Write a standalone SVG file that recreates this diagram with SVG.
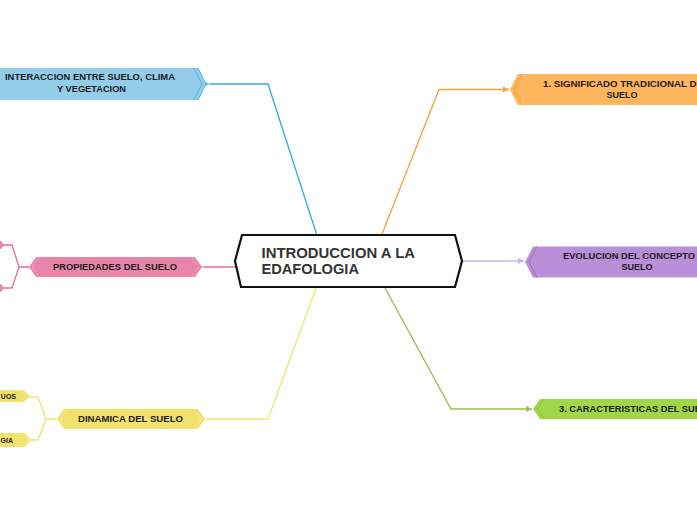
<svg xmlns="http://www.w3.org/2000/svg" width="697" height="520" viewBox="0 0 697 520">
<style>
.t{font-family:"Liberation Sans",Arial,sans-serif;font-weight:bold;fill:#1c1c1c;font-size:9px}
.c{fill:none;stroke-width:1.3}
.main{font-family:"Liberation Sans",Arial,sans-serif;font-weight:bold;fill:#333;font-size:14px}
</style>
<defs>
<marker id="aB" markerWidth="8" markerHeight="8" refX="1" refY="4" orient="auto" markerUnits="userSpaceOnUse"><path d="M7,1 L1,4 L7,7 Z" fill="#37a9e1"/></marker>
<marker id="aO" markerWidth="8" markerHeight="8" refX="7" refY="4" orient="auto" markerUnits="userSpaceOnUse"><path d="M1,1 L7,4 L1,7 Z" fill="#f2a33a"/></marker>
<marker id="aP" markerWidth="8" markerHeight="8" refX="7" refY="4" orient="auto" markerUnits="userSpaceOnUse"><path d="M1,1 L7,4 L1,7 Z" fill="#c7b5e5"/></marker>
<marker id="aK" markerWidth="8" markerHeight="8" refX="1" refY="4" orient="auto" markerUnits="userSpaceOnUse"><path d="M7,1 L1,4 L7,7 Z" fill="#ea6e9c"/></marker>
<marker id="aY" markerWidth="8" markerHeight="8" refX="1" refY="4" orient="auto" markerUnits="userSpaceOnUse"><path d="M7,1 L1,4 L7,7 Z" fill="#f5e46a"/></marker>
<marker id="aG" markerWidth="8" markerHeight="8" refX="7" refY="4" orient="auto" markerUnits="userSpaceOnUse"><path d="M1,1 L7,4 L1,7 Z" fill="#8dc44d"/></marker>
</defs>
<rect width="697" height="520" fill="#ffffff"/>
<g id="connectors">
<path class="c" d="M316.5,234 L268,84 H209" stroke="#37a9e1" marker-end="url(#aB)"/>
<path class="c" d="M382,234 L439,89.5 H509" stroke="#f2a33a" marker-end="url(#aO)"/>
<path class="c" d="M463,261 H524" stroke="#c7b5e5" marker-end="url(#aP)"/>
<path class="c" d="M237,267 H203" stroke="#ea6e9c" marker-end="url(#aK)"/>
<path class="c" d="M316,288 L268,419 H206" stroke="#f5e46a" marker-end="url(#aY)"/>
<path class="c" d="M385,288 L451,409 H532" stroke="#8dc44d" marker-end="url(#aG)"/>
<path class="c" d="M29,267 H19 L12,245 H0 M19,267 L12,288 H0" stroke="#ea6e9c"/>
<path class="c" d="M57,419 H46 L38,397 H30 M46,419 L38,440 H31" stroke="#f5e46a"/>
</g>
<g id="central">
<polygon points="242,235 455,235 462,261 455,287 241,287 235,261" fill="#ffffff" stroke="#111" stroke-width="2.2" stroke-linejoin="miter"/>
<text class="main" x="261.5" y="258.3" textLength="153.5" lengthAdjust="spacingAndGlyphs">INTRODUCCION A LA</text>
<text class="main" x="261.5" y="274.3" textLength="97.5" lengthAdjust="spacingAndGlyphs">EDAFOLOGIA</text>
</g>
<g id="n-interaccion">
<polygon points="0,68 198,68 206,84 198,100 0,100" fill="#94cdea"/>
<polyline points="194,68 202,84 194,100" fill="none" stroke="#4bb3e6" stroke-width="1"/>
<polyline points="198,68 206,84 198,100" fill="none" stroke="#4bb3e6" stroke-width="1"/>
<text class="t" x="5" y="80" textLength="170" lengthAdjust="spacingAndGlyphs">INTERACCION ENTRE SUELO, CLIMA</text>
<text class="t" x="57" y="92.3" textLength="69" lengthAdjust="spacingAndGlyphs">Y VEGETACION</text>
</g>
<g id="n-significado">
<polygon points="518,74 697,74 697,105 518,105 510,89.5" fill="#ffb55c"/>
<polyline points="522,74 514,89.5 522,105" fill="none" stroke="#f59d2e" stroke-width="1"/>
<text class="t" x="543" y="86.5" textLength="166" lengthAdjust="spacingAndGlyphs">1. SIGNIFICADO TRADICIONAL DEL</text>
<text class="t" x="622" y="97.5" text-anchor="middle">SUELO</text>
</g>
<g id="n-evolucion">
<polygon points="533,246.5 697,246.5 697,277.5 533,277.5 525,262" fill="#b98fd9"/>
<polyline points="537,246.5 529,262 537,277.5" fill="none" stroke="#9d6fc4" stroke-width="1"/>
<text class="t" x="563" y="259" textLength="132" lengthAdjust="spacingAndGlyphs">EVOLUCION DEL CONCEPTO</text>
<text class="t" x="637" y="270.3" text-anchor="middle">SUELO</text>
</g>
<g id="n-propiedades">
<polygon points="36,257 195,257 202,267 195,277 36,277 29,267" fill="#e985a8"/>
<polyline points="39,257 32,267 39,277" fill="none" stroke="#f29dbc" stroke-width="1"/>
<polyline points="192,257 199,267 192,277" fill="none" stroke="#f29dbc" stroke-width="1"/>
<text class="t" x="53" y="270" textLength="124" lengthAdjust="spacingAndGlyphs">PROPIEDADES DEL SUELO</text>
</g>
<g id="n-prop-child1">
<polygon points="0,241 1,241 4,245 1,249 0,249" fill="#e985a8"/>
</g>
<g id="n-prop-child2">
<polygon points="0,284 1,284 4,288 1,292 0,292" fill="#e985a8"/>
</g>
<g id="n-dinamica">
<polygon points="64,409 198,409 205,419 198,429 64,429 57,419" fill="#f1e16d"/>
<polyline points="67,409 60,419 67,429" fill="none" stroke="#f8ec93" stroke-width="1"/>
<polyline points="195,409 202,419 195,429" fill="none" stroke="#f8ec93" stroke-width="1"/>
<text class="t" x="78" y="422" textLength="105" lengthAdjust="spacingAndGlyphs">DINAMICA DEL SUELO</text>
</g>
<g id="n-din-child1">
<polygon points="0,390 24,390 30,396 24,402 0,402" fill="#f1e16d"/>
<polyline points="21,390 27,396 21,402" fill="none" stroke="#f8ec93" stroke-width="1"/>
<text class="t" x="16" y="398.5" text-anchor="end" style="font-size:7px">UOS</text>
</g>
<g id="n-din-child2">
<polygon points="0,433 25,433 31,440 25,447 0,447" fill="#f1e16d"/>
<polyline points="22,433 28,440 22,447" fill="none" stroke="#f8ec93" stroke-width="1"/>
<text class="t" x="13" y="442.7" text-anchor="end" style="font-size:7px">GIA</text>
</g>
<g id="n-caracteristicas">
<polygon points="540,399 697,399 697,419 540,419 533,409" fill="#a0d64a"/>
<polyline points="544,399 537,409 544,419" fill="none" stroke="#86c13a" stroke-width="1"/>
<text class="t" x="559" y="412.3" style="font-size:9.3px">3. CARACTERISTICAS DEL SUELO</text>
</g>
</svg>
